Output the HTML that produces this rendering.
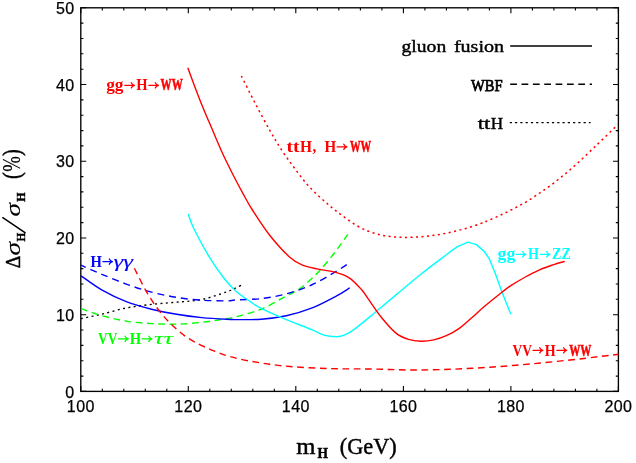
<!DOCTYPE html>
<html><head><meta charset="utf-8"><title>Higgs cross section accuracy</title>
<style>
html,body{margin:0;padding:0;background:#fff;}
body{width:636px;height:463px;overflow:hidden;font-family:"Liberation Sans",sans-serif;}
svg{display:block;will-change:transform;}
</style></head><body>
<svg width="636" height="463" viewBox="0 0 636 463">
<rect width="636" height="463" fill="#fff"/>
<g stroke="#000" stroke-width="1.35" fill="none" stroke-linecap="butt">
<rect x="80.8" y="7.8" width="537.6" height="383.6"/>
</g>
<path d="M80.8 391.4v-5.4M80.8 7.8v5.4M102.3 391.4v-2.6M102.3 7.8v2.6M123.8 391.4v-2.6M123.8 7.8v2.6M145.3 391.4v-2.6M145.3 7.8v2.6M166.8 391.4v-2.6M166.8 7.8v2.6M188.3 391.4v-5.4M188.3 7.8v5.4M209.8 391.4v-2.6M209.8 7.8v2.6M231.3 391.4v-2.6M231.3 7.8v2.6M252.8 391.4v-2.6M252.8 7.8v2.6M274.3 391.4v-2.6M274.3 7.8v2.6M295.8 391.4v-5.4M295.8 7.8v5.4M317.3 391.4v-2.6M317.3 7.8v2.6M338.8 391.4v-2.6M338.8 7.8v2.6M360.4 391.4v-2.6M360.4 7.8v2.6M381.9 391.4v-2.6M381.9 7.8v2.6M403.4 391.4v-5.4M403.4 7.8v5.4M424.9 391.4v-2.6M424.9 7.8v2.6M446.4 391.4v-2.6M446.4 7.8v2.6M467.9 391.4v-2.6M467.9 7.8v2.6M489.4 391.4v-2.6M489.4 7.8v2.6M510.9 391.4v-5.4M510.9 7.8v5.4M532.4 391.4v-2.6M532.4 7.8v2.6M553.9 391.4v-2.6M553.9 7.8v2.6M575.4 391.4v-2.6M575.4 7.8v2.6M596.9 391.4v-2.6M596.9 7.8v2.6M618.4 391.4v-5.4M618.4 7.8v5.4M80.8 391.4h5.4M618.4 391.4h-5.4M80.8 376.1h2.6M618.4 376.1h-2.6M80.8 360.7h2.6M618.4 360.7h-2.6M80.8 345.4h2.6M618.4 345.4h-2.6M80.8 330.0h2.6M618.4 330.0h-2.6M80.8 314.7h5.4M618.4 314.7h-5.4M80.8 299.3h2.6M618.4 299.3h-2.6M80.8 284.0h2.6M618.4 284.0h-2.6M80.8 268.6h2.6M618.4 268.6h-2.6M80.8 253.3h2.6M618.4 253.3h-2.6M80.8 238.0h5.4M618.4 238.0h-5.4M80.8 222.6h2.6M618.4 222.6h-2.6M80.8 207.3h2.6M618.4 207.3h-2.6M80.8 191.9h2.6M618.4 191.9h-2.6M80.8 176.6h2.6M618.4 176.6h-2.6M80.8 161.2h5.4M618.4 161.2h-5.4M80.8 145.9h2.6M618.4 145.9h-2.6M80.8 130.6h2.6M618.4 130.6h-2.6M80.8 115.2h2.6M618.4 115.2h-2.6M80.8 99.9h2.6M618.4 99.9h-2.6M80.8 84.5h5.4M618.4 84.5h-5.4M80.8 69.2h2.6M618.4 69.2h-2.6M80.8 53.8h2.6M618.4 53.8h-2.6M80.8 38.5h2.6M618.4 38.5h-2.6M80.8 23.1h2.6M618.4 23.1h-2.6M80.8 7.8h5.4M618.4 7.8h-5.4" stroke="#000" stroke-width="1.1" fill="none"/>
<g font-family="Liberation Sans, sans-serif" font-size="16" fill="#000" stroke="#000" stroke-width="0.25" letter-spacing="0.4">
<text x="74.5" y="397.6" text-anchor="end">0</text>
<text x="74.5" y="320.9" text-anchor="end">10</text>
<text x="74.5" y="244.2" text-anchor="end">20</text>
<text x="74.5" y="167.4" text-anchor="end">30</text>
<text x="74.5" y="90.7" text-anchor="end">40</text>
<text x="74.5" y="14.0" text-anchor="end">50</text>
<text x="80.8" y="412" text-anchor="middle">100</text>
<text x="188.3" y="412" text-anchor="middle">120</text>
<text x="295.8" y="412" text-anchor="middle">140</text>
<text x="403.4" y="412" text-anchor="middle">160</text>
<text x="510.9" y="412" text-anchor="middle">180</text>
<text x="618.4" y="412" text-anchor="middle">200</text>
</g>
<path d="M81.0 318.6 C84.4 317.9 93.7 316.1 101.2 314.3 C108.8 312.5 117.9 309.6 126.3 308.0 C134.7 306.4 143.1 305.4 151.5 304.4 C159.9 303.4 168.2 303.0 176.6 302.2 C185.0 301.4 193.4 301.2 201.8 299.5 C210.2 297.8 221.5 293.6 226.9 291.8 C232.3 290.0 231.9 289.8 234.5 288.6 C237.1 287.4 241.0 285.4 242.3 284.8" fill="none" stroke="#000" stroke-width="1.35" stroke-linecap="butt" stroke-linejoin="round" stroke-dasharray="2 3.4"/>
<path d="M81.0 308.7 C84.4 309.8 93.7 313.4 101.2 315.5 C108.8 317.6 117.9 319.8 126.3 321.1 C134.7 322.5 143.1 323.1 151.5 323.6 C159.9 324.1 168.2 324.3 176.6 324.1 C185.0 323.9 193.4 323.2 201.8 322.3 C210.2 321.4 221.2 319.5 226.9 318.6 C232.6 317.7 230.3 318.4 236.0 316.8 C241.7 315.2 252.8 312.6 261.2 309.2 C269.6 305.8 280.0 299.4 286.3 296.1 C292.6 292.8 295.0 292.1 299.2 289.2 C303.4 286.3 307.9 282.0 311.5 278.7 C315.1 275.4 317.1 273.6 320.9 269.3 C324.7 265.1 329.7 259.0 334.2 253.2 C338.7 247.4 345.5 237.5 347.8 234.3" fill="none" stroke="#00ff00" stroke-width="1.40" stroke-linecap="butt" stroke-linejoin="round" stroke-dasharray="6.8 4.5"/>
<path d="M81.0 265.2 C84.4 266.7 93.7 270.9 101.2 274.0 C108.8 277.1 117.9 281.1 126.3 284.1 C134.7 287.1 143.1 289.9 151.5 292.1 C159.9 294.3 168.2 296.0 176.6 297.4 C185.0 298.8 193.4 299.6 201.8 300.2 C210.2 300.8 221.2 300.9 226.9 300.9 C232.6 300.8 230.3 300.3 236.0 299.9 C241.7 299.5 252.8 299.6 261.2 298.6 C269.6 297.6 277.9 296.1 286.3 293.8 C294.7 291.5 303.1 288.8 311.5 285.0 C319.9 281.2 330.2 274.8 336.6 271.1 C343.0 267.4 347.5 264.0 349.7 262.6" fill="none" stroke="#0000ff" stroke-width="1.40" stroke-linecap="butt" stroke-linejoin="round" stroke-dasharray="7 4.9" stroke-dashoffset="1.7"/>
<path d="M81.0 275.8 C84.4 278.1 93.7 285.3 101.2 289.6 C108.8 293.9 117.9 298.4 126.3 301.7 C134.7 305.0 143.1 307.1 151.5 309.2 C159.9 311.3 168.2 312.9 176.6 314.3 C185.0 315.7 193.4 316.8 201.8 317.6 C210.2 318.4 221.2 319.0 226.9 319.3 C232.6 319.6 230.3 319.6 236.0 319.6 C241.7 319.6 252.8 319.8 261.2 319.2 C269.6 318.6 277.9 317.6 286.3 315.8 C294.7 314.0 303.1 311.5 311.5 308.2 C319.9 304.9 330.2 299.3 336.6 295.9 C343.0 292.5 347.5 289.2 349.7 287.9" fill="none" stroke="#0000ff" stroke-width="1.40" stroke-linecap="butt" stroke-linejoin="round"/>
<path d="M188.1 213.8 C189.1 216.3 190.4 221.7 194.0 229.0 C197.6 236.3 204.8 249.6 209.7 257.7 C214.6 265.8 219.2 272.2 223.6 277.8 C228.0 283.4 231.6 287.4 236.0 291.3 C240.4 295.2 245.8 298.5 250.0 301.4 C254.2 304.2 255.1 305.4 261.2 308.4 C267.2 311.4 277.9 316.1 286.3 319.6 C294.7 323.1 305.2 327.0 311.5 329.6 C317.8 332.2 319.8 334.0 324.0 335.2 C328.2 336.4 333.2 336.7 336.6 336.7 C340.0 336.7 341.3 336.4 344.2 335.2 C347.1 334.0 349.2 333.1 354.2 329.4 C359.2 325.7 367.4 318.8 374.4 313.0 C381.4 307.2 388.2 301.4 396.0 294.9 C403.8 288.4 412.8 280.7 421.2 274.0 C429.6 267.3 440.3 259.3 446.3 254.7 C452.3 250.1 455.5 247.9 457.4 246.6 L468.1 242.1 L476.4 244.6 L484.2 251.4 L489.5 259.2 L495.0 272.8 L502.0 292.2 L510.8 314.2" fill="none" stroke="#00ffff" stroke-width="1.4" stroke-linejoin="round"/>
<path d="M241.4 76.0 C243.7 80.5 250.3 94.0 255.0 103.0 C259.7 112.0 265.2 122.2 269.6 130.0 C274.1 137.8 277.6 143.8 281.7 150.1 C285.8 156.4 290.0 162.0 294.2 167.7 C298.4 173.4 302.6 179.3 306.8 184.1 C311.0 188.9 315.3 192.9 319.4 196.7 C323.5 200.5 327.4 203.9 331.3 207.1 C335.2 210.3 338.6 213.0 342.6 215.9 C346.6 218.8 351.0 222.2 355.2 224.7 C359.4 227.2 363.5 229.3 367.7 231.0 C371.9 232.7 376.1 233.8 380.3 234.8 C384.5 235.8 388.7 236.4 392.9 236.8 C397.1 237.2 401.3 237.4 405.5 237.4 C409.7 237.4 413.8 237.2 418.0 236.9 C422.2 236.6 426.4 236.3 430.6 235.8 C434.8 235.3 439.0 234.6 443.2 233.8 C447.4 233.0 451.6 232.0 455.8 231.0 C460.0 230.0 464.2 228.9 468.4 227.7 C472.6 226.4 477.5 224.7 480.9 223.5 C484.3 222.3 485.2 221.8 488.6 220.3 C492.0 218.9 497.0 216.8 501.2 214.8 C505.4 212.9 509.5 210.8 513.7 208.6 C517.9 206.4 522.1 204.3 526.3 201.8 C530.5 199.3 534.7 196.3 538.9 193.5 C543.1 190.7 547.3 187.8 551.5 184.7 C555.7 181.6 559.9 178.2 564.1 174.8 C568.3 171.4 572.4 167.8 576.6 164.0 C580.8 160.2 585.0 156.2 589.2 152.2 C593.4 148.2 597.0 144.7 601.8 140.1 C606.6 135.5 615.3 127.1 618.0 124.5" fill="none" stroke="#ff0000" stroke-width="1.50" stroke-linecap="butt" stroke-linejoin="round" stroke-dasharray="2.1 3.4"/>
<path d="M134.4 268.2 C136.4 272.1 142.3 284.6 146.4 291.6 C150.5 298.7 154.8 305.0 159.0 310.5 C163.2 316.0 167.0 320.2 171.6 324.6 C176.2 329.1 181.0 333.4 186.7 337.2 C192.4 341.0 198.4 344.1 205.6 347.3 C212.8 350.5 220.9 354.0 230.0 356.6 C239.1 359.2 250.0 361.2 260.0 362.8 C270.0 364.4 278.3 365.5 290.0 366.5 C301.7 367.5 316.7 368.2 330.0 368.6 C343.3 369.0 356.7 368.8 370.0 369.0 C383.3 369.2 396.7 369.9 410.0 370.0 C423.3 370.1 436.7 369.8 450.0 369.3 C463.3 368.8 476.7 368.1 490.0 367.2 C503.3 366.3 516.7 365.2 530.0 364.0 C543.3 362.8 558.3 361.2 570.0 360.0 C581.7 358.8 591.9 357.4 600.0 356.5 C608.1 355.6 615.4 354.7 618.5 354.3" fill="none" stroke="#ff0000" stroke-width="1.40" stroke-linecap="butt" stroke-linejoin="round" stroke-dasharray="6.7 4.6"/>
<path d="M187.8 67.8 C189.7 73.0 195.9 89.8 199.4 98.8 C202.9 107.8 205.5 113.6 209.1 122.1 C212.7 130.5 217.7 142.5 220.8 149.5 C223.9 156.5 225.3 159.2 227.8 164.3 C230.3 169.4 233.0 174.8 235.6 179.8 C238.2 184.8 240.5 189.1 243.3 194.1 C246.1 199.1 248.0 203.2 252.4 210.0 C256.8 216.8 263.4 227.3 269.5 235.0 C275.6 242.7 283.4 251.4 288.9 256.4 C294.4 261.4 297.6 263.1 302.5 265.2 C307.4 267.3 312.6 267.9 318.1 269.1 C323.6 270.3 330.4 270.9 335.6 272.4 C340.8 273.8 344.8 274.9 349.2 277.8 C353.6 280.7 358.5 286.2 361.9 290.0 C365.2 293.8 366.0 295.7 369.3 300.4 C372.6 305.1 377.4 312.6 381.9 318.0 C386.3 323.4 391.6 329.5 396.0 333.1 C400.4 336.7 404.4 338.0 408.6 339.4 C412.8 340.8 417.0 341.1 421.2 341.2 C425.4 341.3 429.5 340.8 433.7 339.9 C437.9 339.0 442.1 337.6 446.3 335.7 C450.5 333.8 454.7 331.6 458.9 328.6 C463.1 325.7 467.3 321.6 471.5 318.0 C475.7 314.4 478.9 311.1 484.0 306.8 C489.1 302.5 497.5 295.8 502.0 292.2 C506.5 288.6 507.3 287.9 511.2 285.4 C515.1 282.9 520.7 279.6 525.4 277.0 C530.1 274.4 534.8 271.9 539.5 269.8 C544.2 267.7 549.5 266.0 553.7 264.6 C557.9 263.2 562.9 261.9 564.7 261.4" fill="none" stroke="#ff0000" stroke-width="1.40" stroke-linecap="butt" stroke-linejoin="round"/>
<path d="M510.2 46.0H592" stroke="#000" stroke-width="1.3"/>
<path d="M510.2 84.2H592" stroke="#000" stroke-width="1.45" stroke-dasharray="6.75 4.6"/>
<path d="M509.8 122.6H590.6" stroke="#000" stroke-width="1.3" stroke-dasharray="2.2 3.07"/>
<g font-family="Liberation Serif, serif" font-size="16.8" fill="#000" stroke="#000" stroke-width="0.4">
<text x="401.5" y="51.7" textLength="44.7" lengthAdjust="spacingAndGlyphs">gluon</text>
<text x="453.9" y="51.7" textLength="50.2" lengthAdjust="spacingAndGlyphs">fusion</text>
<text x="471.0" y="90.5" textLength="31.6" lengthAdjust="spacingAndGlyphs" stroke-width="0.75">WBF</text>
<text x="477.8" y="128.7" textLength="12.6" lengthAdjust="spacingAndGlyphs">tt</text>
<text x="490.8" y="128.7" textLength="12.4" lengthAdjust="spacingAndGlyphs">H</text>
</g>
<g font-family="Liberation Serif, serif" font-size="16.3" font-weight="bold" fill="#ff0000">
<text x="106.2" y="90.4" textLength="17.3" lengthAdjust="spacingAndGlyphs">gg</text>
<path d="M124.8 85.3H134.3M131.3 82.7Q132.3 84.7 134.4 85.3Q132.3 85.9 131.3 87.9" fill="none" stroke="#ff0000" stroke-width="1.35" stroke-linecap="round" stroke-linejoin="round"/>
<text x="136.3" y="90.4" textLength="11.3" lengthAdjust="spacingAndGlyphs">H</text>
<path d="M148.8 85.3H158.3M155.3 82.7Q156.3 84.7 158.4 85.3Q156.3 85.9 155.3 87.9" fill="none" stroke="#ff0000" stroke-width="1.35" stroke-linecap="round" stroke-linejoin="round"/>
<text x="160.6" y="90.4" textLength="22.2" lengthAdjust="spacingAndGlyphs" stroke="#ff0000" stroke-width="0.55">WW</text>
</g>
<g font-family="Liberation Serif, serif" font-size="16.3" font-weight="bold" fill="#ff0000">
<text x="286.6" y="151.9" textLength="13.0" lengthAdjust="spacingAndGlyphs">tt</text>
<text x="299.9" y="151.9" textLength="12.0" lengthAdjust="spacingAndGlyphs">H</text>
<text x="312.6" y="151.9" textLength="3.8" lengthAdjust="spacingAndGlyphs">,</text>
<text x="324.5" y="151.9" textLength="11.7" lengthAdjust="spacingAndGlyphs">H</text>
<path d="M337.1 146.8H346.8M343.8 144.2Q344.8 146.2 346.9 146.8Q344.8 147.4 343.8 149.4" fill="none" stroke="#ff0000" stroke-width="1.35" stroke-linecap="round" stroke-linejoin="round"/>
<text x="349.9" y="151.9" textLength="21.2" lengthAdjust="spacingAndGlyphs" stroke="#ff0000" stroke-width="0.55">WW</text>
</g>
<g font-family="Liberation Serif, serif" font-size="16.3" font-weight="bold" fill="#00ffff">
<text x="497.6" y="259.4" textLength="17.8" lengthAdjust="spacingAndGlyphs">gg</text>
<path d="M516.5 254.3H525.7M522.7 251.7Q523.7 253.7 525.8 254.3Q523.7 254.9 522.7 256.9" fill="none" stroke="#00ffff" stroke-width="1.35" stroke-linecap="round" stroke-linejoin="round"/>
<text x="528.0" y="259.4" textLength="11.0" lengthAdjust="spacingAndGlyphs">H</text>
<path d="M540.2 254.3H549.7M546.7 251.7Q547.7 253.7 549.8 254.3Q547.7 254.9 546.7 256.9" fill="none" stroke="#00ffff" stroke-width="1.35" stroke-linecap="round" stroke-linejoin="round"/>
<text x="552.1" y="259.4" textLength="18.8" lengthAdjust="spacingAndGlyphs">ZZ</text>
</g>
<g font-family="Liberation Serif, serif" font-size="16.3" font-weight="bold" fill="#ff0000">
<text x="512.6" y="355.5" textLength="19.5" lengthAdjust="spacingAndGlyphs">VV</text>
<path d="M533.1 350.4H542.7M539.7 347.8Q540.7 349.8 542.8 350.4Q540.7 351.0 539.7 353.0" fill="none" stroke="#ff0000" stroke-width="1.35" stroke-linecap="round" stroke-linejoin="round"/>
<text x="544.8" y="355.5" textLength="10.9" lengthAdjust="spacingAndGlyphs">H</text>
<path d="M557.0 350.4H566.6M563.6 347.8Q564.6 349.8 566.7 350.4Q564.6 351.0 563.6 353.0" fill="none" stroke="#ff0000" stroke-width="1.35" stroke-linecap="round" stroke-linejoin="round"/>
<text x="569.2" y="355.5" textLength="22.1" lengthAdjust="spacingAndGlyphs" stroke="#ff0000" stroke-width="0.55">WW</text>
</g>
<g font-family="Liberation Serif, serif" font-size="16.3" font-weight="bold" fill="#0000ff">
<text x="90.6" y="266.7" textLength="11.4" lengthAdjust="spacingAndGlyphs">H</text>
<path d="M102.9 261.6H112.3M109.3 259.0Q110.3 261.0 112.4 261.6Q110.3 262.2 109.3 264.2" fill="none" stroke="#0000ff" stroke-width="1.35" stroke-linecap="round" stroke-linejoin="round"/>
<text x="113.5" y="266.7" textLength="19.5" lengthAdjust="spacingAndGlyphs" font-style="italic" font-weight="normal" font-size="17" stroke-width="0.1" stroke="#0000ff">γγ</text>
</g>
<g font-family="Liberation Serif, serif" font-size="16.3" font-weight="bold" fill="#00ff00">
<text x="98.1" y="343.9" textLength="19.3" lengthAdjust="spacingAndGlyphs">VV</text>
<path d="M118.4 338.8H128.1M125.1 336.2Q126.1 338.2 128.2 338.8Q126.1 339.4 125.1 341.4" fill="none" stroke="#00ff00" stroke-width="1.35" stroke-linecap="round" stroke-linejoin="round"/>
<text x="129.8" y="343.9" textLength="11.4" lengthAdjust="spacingAndGlyphs">H</text>
<path d="M142.1 338.8H151.8M148.8 336.2Q149.8 338.2 151.9 338.8Q149.8 339.4 148.8 341.4" fill="none" stroke="#00ff00" stroke-width="1.35" stroke-linecap="round" stroke-linejoin="round"/>
<text x="154.0" y="343.9" textLength="18.8" lengthAdjust="spacingAndGlyphs" font-style="italic" font-weight="normal" font-size="17" stroke-width="0.1" stroke="#00ff00">ττ</text>
</g>
<g font-family="Liberation Serif, serif" fill="#000" stroke="#000" stroke-width="0.45">
<text x="296.2" y="454.0" font-size="23.0" textLength="19.2" lengthAdjust="spacingAndGlyphs">m</text>
<text x="317.5" y="458.3" font-size="14.4" textLength="10.5" lengthAdjust="spacingAndGlyphs" font-weight="bold">H</text>
<text x="339.8" y="454.0" font-size="22.8" textLength="56.8" lengthAdjust="spacingAndGlyphs">(GeV)</text>
<g transform="translate(19.8 268) rotate(-90)">
<text x="-0.3" y="0.0" font-size="21.5" textLength="12.5" lengthAdjust="spacingAndGlyphs">Δ</text>
<text x="12.6" y="0.0" font-size="22.0" textLength="13.4" lengthAdjust="spacingAndGlyphs" font-style="italic" stroke-width="0.15">σ</text>
<text x="26.4" y="5.0" font-size="13.4" textLength="8.7" lengthAdjust="spacingAndGlyphs" font-weight="bold">H</text>
<path d="M35.3 5.2L50.3 -17" stroke="#000" stroke-width="1.5" fill="none" stroke-linecap="round"/>
<text x="51.6" y="0.0" font-size="22.0" textLength="13.4" lengthAdjust="spacingAndGlyphs" font-style="italic" stroke-width="0.15">σ</text>
<text x="66.3" y="5.0" font-size="13.4" textLength="9.2" lengthAdjust="spacingAndGlyphs" font-weight="bold">H</text>
<text x="89.0" y="0.0" font-size="24.5" textLength="6.8" lengthAdjust="spacingAndGlyphs">(</text>
<text x="96.3" y="0.3" font-size="24.5" textLength="15.7" lengthAdjust="spacingAndGlyphs" stroke-width="0.2">%</text>
<text x="112.1" y="0.0" font-size="24.5" textLength="6.8" lengthAdjust="spacingAndGlyphs">)</text>
</g>
</g>
</svg>
</body></html>
